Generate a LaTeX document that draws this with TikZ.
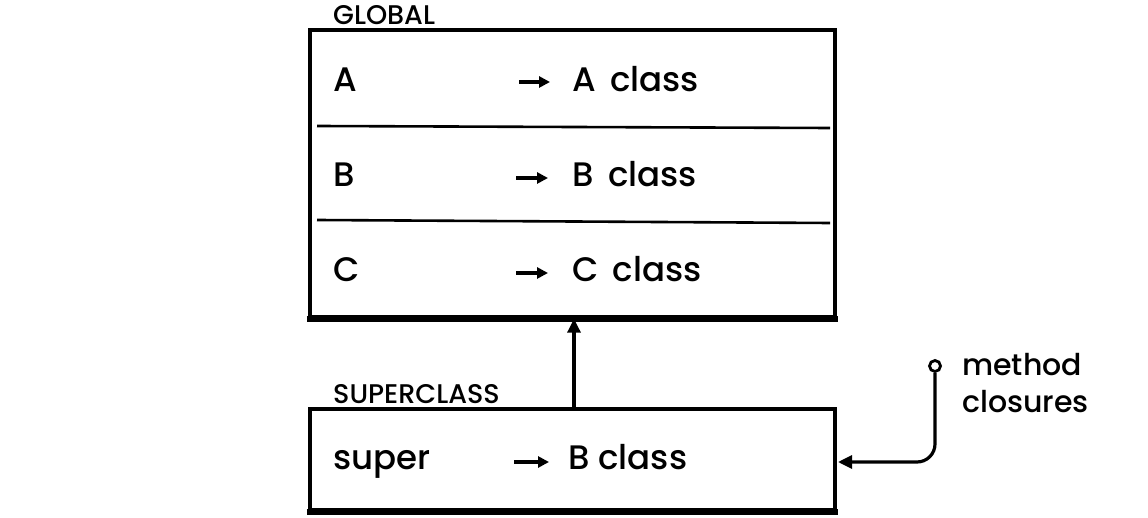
\documentclass[tikz,border=0pt]{standalone}
\usepackage{fontspec}
\IfFontExistsTF{Poppins Medium}{\setmainfont{Poppins Medium}}{\setmainfont{Poppins}}
\usetikzlibrary{arrows.meta}
\begin{document}
\begin{tikzpicture}[x=1pt,y=-1pt,
  boxshape/.style={draw, line width=3.4pt, inner sep=0pt, rectangle},
  divider/.style={line width=2.6pt},
  shadow/.style={line width=6pt},
  key/.style={anchor=base west, inner sep=0pt, font=\fontsize{34}{36}\selectfont},
  title/.style={anchor=base west, inner sep=0pt, font=\fontsize{27}{29}\selectfont},
  note/.style={anchor=base west, inner sep=0pt, align=left, font=\fontsize{30}{37}\selectfont},
  smallarr/.style={line width=3.2pt, -{Triangle[length=11pt,width=11pt]}},
  bigarr/.style={line width=3.2pt, -{Triangle[length=14pt,width=13pt]}},
  dot/.style={circle, draw, line width=2.8pt, minimum size=11pt, inner sep=0pt}
]
\useasboundingbox (0,0) rectangle (1148,518);

% GLOBAL box
\node[boxshape, minimum width=525pt, minimum height=287pt] (global) at (572.5,173.5) {};
\draw[shadow] ([xshift=-1.5pt]global.south west) -- ([xshift=1.5pt]global.south east);
\node[title] (globaltitle) at (333,25) {GLOBAL};
\draw[divider] (317,126) -- (830,128);
\draw[divider] (317,220) -- (830,223);

\node[key] (ka) at (333,92) {A};
\node[key] (va) at (572,92) {A\, class};
\coordinate (a1) at (519,82); \coordinate (a2) at (550,82);
\draw[smallarr] (a1) -- (a2);

\node[key] (kb) at (333,187) {B};
\node[key] (vb) at (572,187) {B\, class};
\coordinate (b1) at (516,178); \coordinate (b2) at (548,178);
\draw[smallarr] (b1) -- (b2);

\node[key] (kc) at (333,282) {C};
\node[key] (vc) at (572,282) {C\, class};
\coordinate (c1) at (516,273); \coordinate (c2) at (548,273);
\draw[smallarr] (c1) -- (c2);

% SUPERCLASS box
\node[boxshape, minimum width=525pt, minimum height=101pt] (super) at (572.5,459.5) {};
\draw[shadow] ([xshift=-1.5pt]super.south west) -- ([xshift=1.5pt]super.south east);
\node[title] (supertitle) at (333,403) {SUPERCLASS};
\node[key] (ks) at (333,469) {super};
\node[key] (vs) at (568,469) {B class};
\coordinate (s1) at (514,462); \coordinate (s2) at (549,462);
\draw[smallarr] (s1) -- (s2);

% superclass -> global
\draw[bigarr] (super.north -| 574,0) -- (global.south -| 574,0);

% method closures
\node[dot] (mc) at (935,366) {};
\node[note] (mctext) at (962,412) {method\\closures};
\coordinate (mcend) at (838,462);
\draw[bigarr, rounded corners=18pt] (mc.south) |- (mcend);
\end{tikzpicture}
\end{document}
